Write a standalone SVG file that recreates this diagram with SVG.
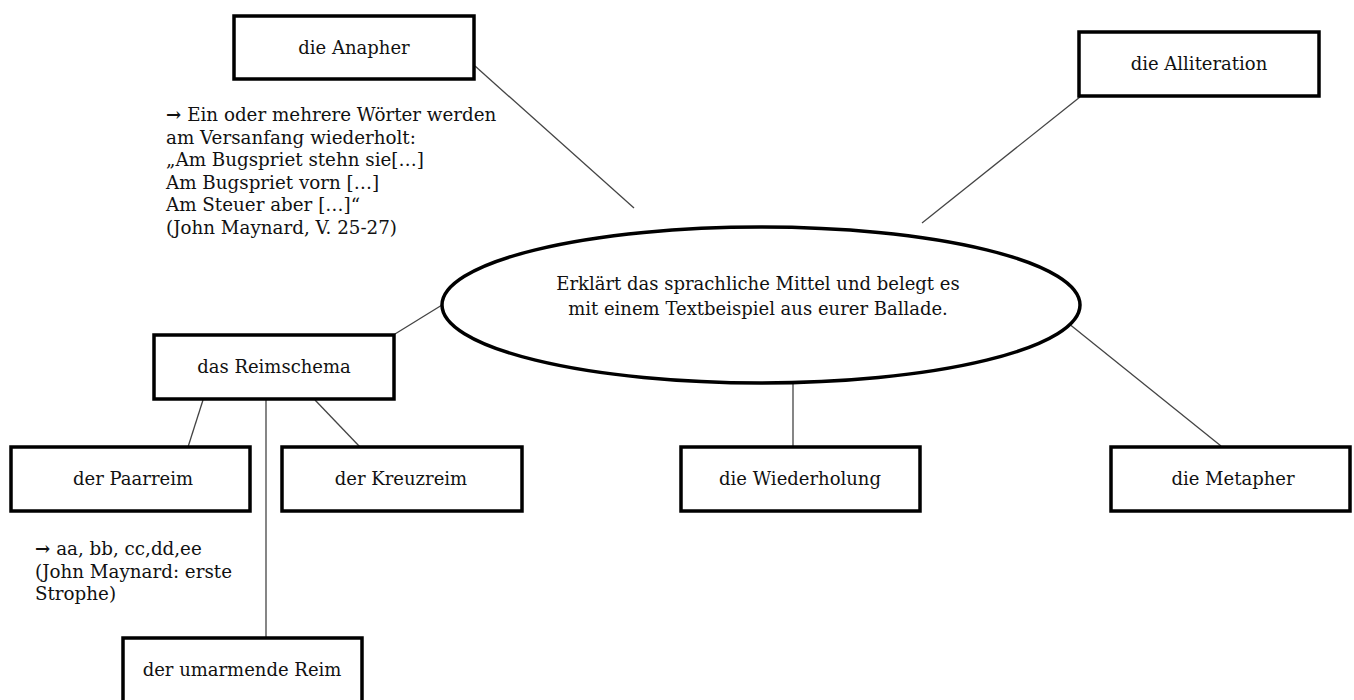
<svg xmlns="http://www.w3.org/2000/svg" width="1354" height="700" viewBox="0 0 1354 700">
<style>
.box{fill:#fff;stroke:#000;stroke-width:3.5}
.lbl{font-family:"DejaVu Serif","Liberation Serif",serif;font-size:18px;fill:#111;text-anchor:middle}
.note{font-family:"DejaVu Serif","Liberation Serif",serif;font-size:18.3px;fill:#111}
.con{stroke:#444;stroke-width:1.3;fill:none}
.arr{font-weight:bold}
</style>
<rect width="1354" height="700" fill="#fff"/>
<g id="connectors">
<line class="con" x1="475" y1="66" x2="634" y2="208"/>
<line class="con" x1="1080" y1="97" x2="922" y2="223"/>
<line class="con" x1="395" y1="334" x2="442" y2="305"/>
<line class="con" x1="793" y1="383" x2="793" y2="446"/>
<line class="con" x1="1068" y1="323" x2="1221" y2="446"/>
<line class="con" x1="203" y1="400" x2="188" y2="447"/>
<line class="con" x1="315" y1="400" x2="360" y2="447"/>
<line class="con" x1="266" y1="400" x2="266" y2="638"/>
</g>
<g id="center">
<ellipse cx="761" cy="305" rx="319" ry="78" fill="#fff" stroke="#000" stroke-width="3.5"/>
<text class="lbl" x="758" y="290">Erklärt das sprachliche Mittel und belegt es</text>
<text class="lbl" x="758" y="315">mit einem Textbeispiel aus eurer Ballade.</text>
</g>
<g id="anapher">
<rect class="box" x="234" y="16" width="240" height="63"/>
<text class="lbl" x="354" y="54">die Anapher</text>
</g>
<g id="anapher-note">
<text class="note" x="166" y="121"><tspan class="arr">→</tspan> Ein oder mehrere Wörter werden</text>
<text class="note" x="166" y="144">am Versanfang wiederholt:</text>
<text class="note" x="166" y="166">„Am Bugspriet stehn sie[…]</text>
<text class="note" x="166" y="189">Am Bugspriet vorn […]</text>
<text class="note" x="166" y="211">Am Steuer aber […]“</text>
<text class="note" x="166" y="234">(John Maynard, V. 25-27)</text>
</g>
<g id="alliteration">
<rect class="box" x="1079" y="32" width="240" height="64"/>
<text class="lbl" x="1199" y="70">die Alliteration</text>
</g>
<g id="reimschema">
<rect class="box" x="154" y="335" width="240" height="64"/>
<text class="lbl" x="274" y="373">das Reimschema</text>
</g>
<g id="paarreim">
<rect class="box" x="11" y="447" width="239" height="64"/>
<text class="lbl" x="133" y="485">der Paarreim</text>
</g>
<g id="paarreim-note">
<text class="note" x="35" y="555"><tspan class="arr">→</tspan> aa, bb, cc,dd,ee</text>
<text class="note" x="35" y="578">(John Maynard: erste</text>
<text class="note" x="35" y="600">Strophe)</text>
</g>
<g id="kreuzreim">
<rect class="box" x="282" y="447" width="240" height="64"/>
<text class="lbl" x="401" y="485">der Kreuzreim</text>
</g>
<g id="umarmend">
<rect class="box" x="123" y="638" width="239" height="70"/>
<text class="lbl" x="242" y="676">der umarmende Reim</text>
</g>
<g id="wiederholung">
<rect class="box" x="681" y="447" width="239" height="64"/>
<text class="lbl" x="800" y="485">die Wiederholung</text>
</g>
<g id="metapher">
<rect class="box" x="1111" y="447" width="239" height="64"/>
<text class="lbl" x="1233" y="485">die Metapher</text>
</g>
</svg>
